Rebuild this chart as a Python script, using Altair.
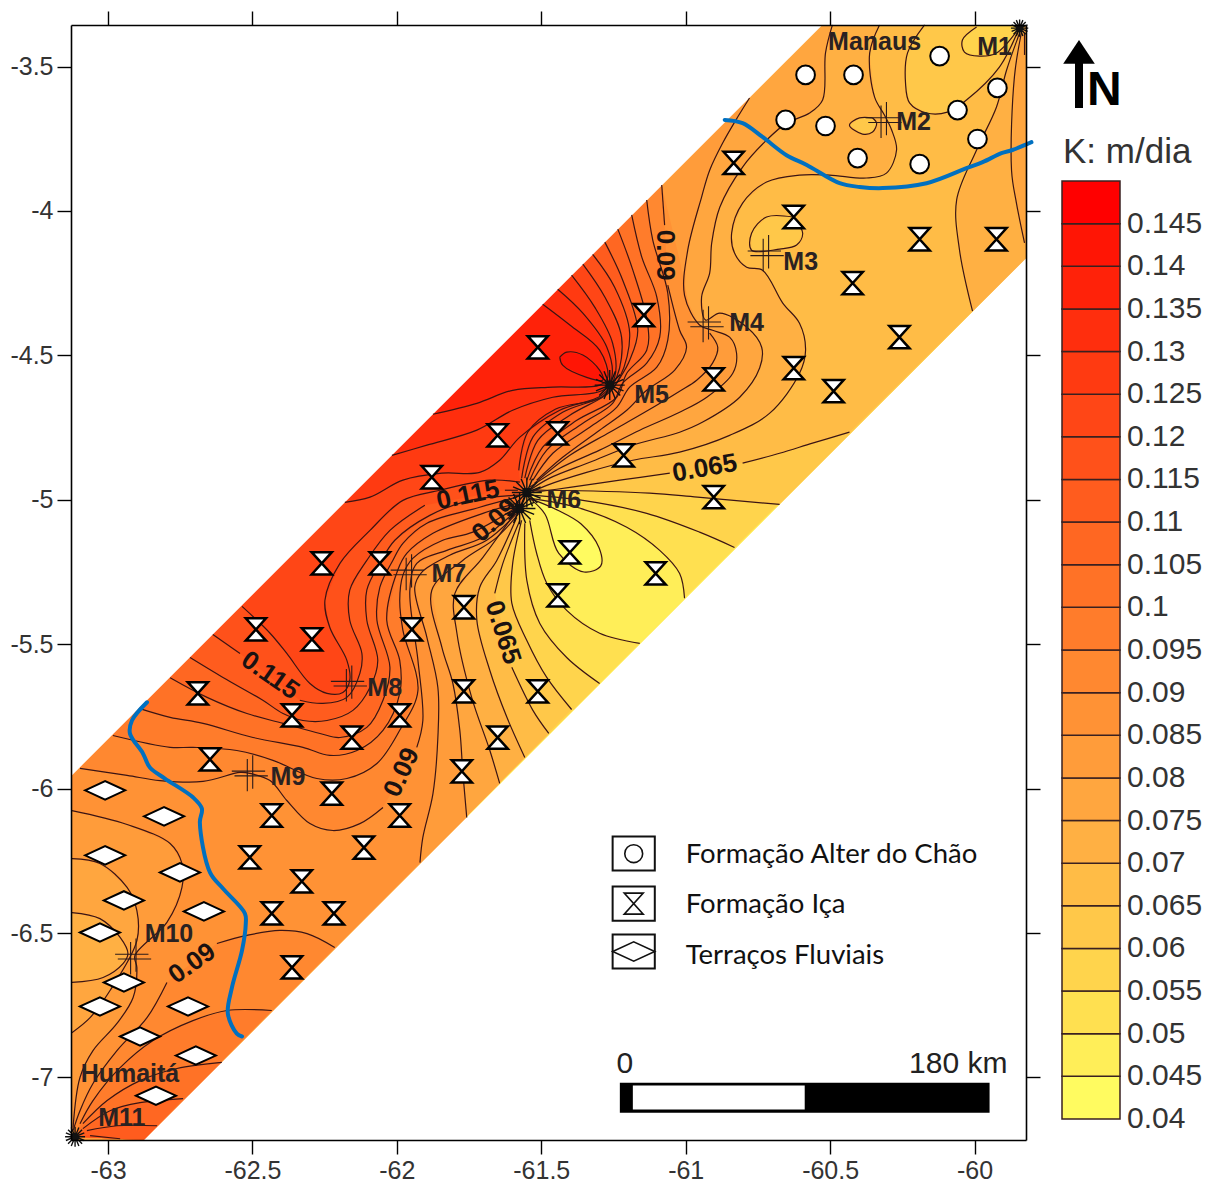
import altair as alt
import pandas as pd

# map frame, degrees
LEFT, RIGHT, TOP, BOTTOM = -63.1281, -59.8219, -3.3563, -7.2164
K = 288.85
UP_W = -5.957      # upper band edge meets the west frame
UP_N = -60.527     # upper band edge meets the north frame
LOW_E = -4.165     # lower band edge meets the east frame
LOW_S = -62.875    # lower band edge meets the south frame

LON_TICKS = [-63, -62.5, -62, -61.5, -61, -60.5, -60]
LAT_TICKS = [-3.5, -4, -4.5, -5, -5.5, -6, -6.5, -7]

LEVELS = [0.04, 0.045, 0.05, 0.055, 0.06, 0.065, 0.07, 0.075, 0.08, 0.085, 0.09, 0.095,
          0.1, 0.105, 0.11, 0.115, 0.12, 0.125, 0.13, 0.135, 0.14, 0.145]
LEVEL_TEXT = ["0.04", "0.045", "0.05", "0.055", "0.06", "0.065", "0.07", "0.075", "0.08", "0.085",
              "0.09", "0.095", "0.1", "0.105", "0.11", "0.115", "0.12", "0.125", "0.13", "0.135",
              "0.14", "0.145"]
LEVEL_COLORS = ["#FFFB60", "#FFEE58", "#FFE050", "#FFD44C", "#FFC849", "#FFBC46", "#FFB043", "#FFA63F",
                "#FF9C3A", "#FF9235", "#FF8830", "#FF7C2B", "#FF7226", "#FF6722", "#FF5C1E", "#FF511A",
                "#FF4616", "#FF3A11", "#FF2E0D", "#FF2209", "#FF1505", "#FF0000"]
COL = dict(zip(LEVELS, LEVEL_COLORS))

# contour pieces (lon, lat); None marks a gap left for a label
F7 = [(-61.004, -5.341), (-61.021, -5.255), (-61.09, -5.175), (-61.204, -5.095), (-61.377, -5.026), (-61.54, -4.995)]
F6 = [(-61.54, -5.071), (-61.516, -5.185), (-61.481, -5.289), (-61.412, -5.383), (-61.298, -5.462), (-61.159, -5.497)]
F8 = [(-60.831, -5.165), (-60.952, -5.112), (-61.135, -5.047), (-61.356, -5.002), (-61.54, -4.984)]
F5 = [(-61.557, -5.081), (-61.55, -5.279), (-61.505, -5.428), (-61.412, -5.546), (-61.298, -5.636)]
F9 = [(-60.675, -5.016), (-60.959, -4.991), (-61.125, -4.977), (-61.481, -4.967), (-61.54, -4.967)]
F4 = [(-61.568, -5.071), (-61.599, -5.22), (-61.602, -5.358), (-61.55, -5.487), (-61.481, -5.615), (-61.395, -5.726)]
YL = [(-60.433, -4.766), (-60.561, -4.804), (-60.675, -4.839), (-60.803, -4.873), None, (-61.055, -4.908),
      (-61.228, -4.932), (-61.401, -4.957), (-61.523, -4.974)]
F3 = [(-61.574, -5.071), (-61.633, -5.22), (-61.661, -5.324), None, (-61.602, -5.58), (-61.529, -5.729), (-61.474, -5.809)]
XL = [(-60.329, -3.356), (-60.363, -3.453), (-60.346, -3.606), (-60.312, -3.668), (-60.287, -3.72), (-60.27, -3.789),
      (-60.305, -3.869), (-60.374, -3.886), (-60.502, -3.876), (-60.606, -3.876), (-60.72, -3.9), (-60.803, -3.973),
      (-60.841, -4.077), (-60.831, -4.146), (-60.789, -4.195), (-60.734, -4.205), (-60.664, -4.319), (-60.606, -4.389),
      (-60.585, -4.482), (-60.606, -4.562), (-60.709, -4.7), (-60.848, -4.777), (-61.021, -4.835), (-61.183, -4.863),
      (-61.343, -4.905), (-61.481, -4.95), (-61.54, -4.977)]
F2 = [(-61.585, -5.061), (-61.654, -5.21), (-61.713, -5.303), (-61.723, -5.417), (-61.678, -5.591), (-61.619, -5.753), (-61.557, -5.892)]
QL = [(-60.492, -3.356), (-60.516, -3.453), (-60.526, -3.616), (-60.571, -3.661), (-60.651, -3.696), (-60.72, -3.755),
      (-60.803, -3.848), (-60.882, -3.987), (-60.91, -4.111), (-60.917, -4.215), (-60.945, -4.298), (-60.931, -4.378)]
KA = [(-60.882, -4.354), (-60.789, -4.402), (-60.737, -4.472), (-60.744, -4.544), (-60.813, -4.645), (-60.941, -4.731),
      (-61.021, -4.766), (-61.183, -4.811), (-61.332, -4.87), (-61.471, -4.925), (-61.54, -4.967)]
F1 = [(-61.592, -5.047), (-61.702, -5.199), (-61.799, -5.324), (-61.792, -5.462), (-61.741, -5.684), (-61.678, -5.868), (-61.644, -5.982)]
PL = [(-60.779, -3.609), (-60.82, -3.675), (-60.872, -3.765), (-60.917, -3.859), (-60.945, -3.952), (-60.993, -4.136),
      (-61.004, -4.292), (-60.952, -4.395)]
KB = [(-60.907, -4.413), (-60.848, -4.437), (-60.824, -4.492), (-60.837, -4.562), (-60.927, -4.645), (-61.021, -4.697),
      (-61.159, -4.759), (-61.298, -4.828), (-61.436, -4.891), (-61.54, -4.957)]
S3 = [(-61.568, -5.036), (-61.654, -5.13), (-61.772, -5.21), (-61.879, -5.313), (-61.844, -5.511), (-61.806, -5.636),
      (-61.782, -5.798), (-61.772, -5.937), (-61.758, -6.1)]
KC = [(-60.917, -4.423), (-60.889, -4.472), (-60.907, -4.527), (-60.962, -4.586), (-61.021, -4.624), (-61.142, -4.697),
      (-61.263, -4.766), (-61.401, -4.846), (-61.523, -4.943)]
S2 = [(-61.574, -5.036), (-61.689, -5.14), (-61.817, -5.192), (-61.914, -5.251), (-61.938, -5.303), (-61.896, -5.476),
      (-61.858, -5.65), (-61.858, -5.823), (-61.875, -6.017), (-61.91, -6.169), (-61.92, -6.256)]
T1 = [(-61.083, -3.91), (-61.073, -4.049), None, (-61.062, -4.257), (-61.021, -4.413), (-60.997, -4.472), (-61.038, -4.551),
      (-61.135, -4.621), (-61.204, -4.69), (-61.298, -4.759), (-61.426, -4.853), (-61.516, -4.932)]
V7 = [(-61.585, -5.036), (-61.702, -5.13), (-61.827, -5.175), (-61.931, -5.22), (-61.955, -5.313), (-61.927, -5.556),
      (-61.91, -5.764), (-61.931, -5.857), None, (-62.048, -6.065), (-62.128, -6.121), (-62.221, -6.145), (-62.301, -6.121),
      (-62.381, -6.041), (-62.439, -5.972), (-62.509, -5.947), (-62.543, -5.944), (-62.671, -5.975), (-62.82, -5.972),
      (-62.934, -5.954), (-63.097, -5.93)]
T2 = [(-61.135, -3.962), (-61.114, -4.101), (-61.062, -4.285), (-61.062, -4.447), (-61.1, -4.541), (-61.194, -4.61),
      (-61.239, -4.68), (-61.332, -4.749), (-61.46, -4.839), (-61.529, -4.932)]
V6 = [(-61.574, -5.019), (-61.737, -5.112), (-61.841, -5.14), (-61.945, -5.203), (-61.979, -5.261), (-61.99, -5.348),
      (-61.979, -5.452), (-61.927, -5.66), (-61.99, -5.798), (-62.069, -5.913), (-62.173, -5.965), (-62.277, -5.965),
      (-62.429, -5.902), (-62.554, -5.868), (-62.706, -5.857), (-62.785, -5.857), (-62.983, -5.816)]
T3 = [(-61.187, -4.014), (-61.152, -4.16), (-61.1, -4.298), (-61.09, -4.437), (-61.135, -4.527), (-61.218, -4.596),
      (-61.253, -4.666), (-61.356, -4.735), (-61.481, -4.828), (-61.54, -4.932)]
V5 = [(-61.574, -5.009), (-61.702, -5.047), (-61.875, -5.116), (-61.965, -5.185), (-61.997, -5.244), (-62.035, -5.417),
      (-61.99, -5.556), (-61.99, -5.67), (-62.048, -5.798), (-62.138, -5.868), (-62.232, -5.885), (-62.325, -5.857),
      (-62.498, -5.823), (-62.671, -5.774), (-62.785, -5.753), (-62.893, -5.722)]
T4 = [(-61.235, -4.063), (-61.183, -4.205), (-61.132, -4.389), (-61.135, -4.482), (-61.204, -4.562), (-61.239, -4.645),
      (-61.377, -4.725), (-61.495, -4.818), (-61.55, -4.932)]
V4 = [(-61.585, -4.991), (-61.713, -5.026), (-61.896, -5.081), (-61.979, -5.151), (-62.014, -5.21), (-62.059, -5.303),
      (-62.069, -5.417), (-62.024, -5.58), (-62.048, -5.694), (-62.104, -5.788), (-62.197, -5.823), (-62.266, -5.809),
      (-62.394, -5.774), (-62.519, -5.74), (-62.657, -5.684), (-62.785, -5.616)]
FF = [(-61.28, -4.108), (-61.218, -4.24), (-61.166, -4.413), (-61.194, -4.517), (-61.228, -4.579), (-61.263, -4.628),
      (-61.401, -4.707), (-61.512, -4.794), (-61.557, -4.925)]
V3 = [(-61.574, -4.984), (-61.747, -5.002), (-61.886, -5.054), (-62.007, -5.14), (-62.059, -5.22), (-62.104, -5.313),
      (-62.104, -5.417), (-62.066, -5.556), (-62.093, -5.65), (-62.152, -5.729), (-62.242, -5.764), (-62.325, -5.764),
      (-62.394, -5.74), (-62.464, -5.694), (-62.602, -5.615), (-62.716, -5.546)]
FE = [(-61.322, -4.15), (-61.246, -4.264), (-61.194, -4.423), (-61.228, -4.576), (-61.28, -4.638), (-61.426, -4.697),
      (-61.529, -4.783), (-61.568, -4.925)]
V2 = [(-61.581, -4.967), (-61.626, -4.967), None, (-61.903, -5.019), (-62.024, -5.106), (-62.104, -5.21), (-62.163, -5.313),
      (-62.163, -5.417), (-62.121, -5.532), (-62.128, -5.601), (-62.173, -5.684), (-62.256, -5.705), (-62.336, -5.694), None,
      (-62.543, -5.532), (-62.637, -5.466)]
FD = [(-61.356, -4.184), (-61.28, -4.298), (-61.222, -4.437), (-61.239, -4.576), (-61.291, -4.645), (-61.45, -4.686),
      (-61.547, -4.766), (-61.578, -4.898)]
V1 = [(-61.574, -4.939), (-61.678, -4.932), (-61.851, -4.967), (-61.979, -5.002), (-62.093, -5.106), (-62.197, -5.22),
      (-62.249, -5.348), (-62.232, -5.442), (-62.173, -5.556), (-62.163, -5.625), (-62.187, -5.667), (-62.242, -5.67),
      (-62.301, -5.636), (-62.381, -5.532), (-62.439, -5.462), (-62.536, -5.369)]
FC = [(-61.395, -4.222), (-61.315, -4.333), (-61.253, -4.458), (-61.246, -4.576)]
W3 = [(-61.291, -4.638), (-61.436, -4.69), (-61.574, -4.783), (-61.644, -4.863), (-61.713, -4.905), (-61.844, -4.908),
      (-61.979, -4.932), (-62.093, -4.991), (-62.18, -5.009)]
FB = [(-61.443, -4.271), (-61.356, -4.354), (-61.273, -4.472), (-61.256, -4.576)]
W2 = [(-61.287, -4.621), (-61.46, -4.645), (-61.599, -4.69), (-61.723, -4.759), (-61.896, -4.811), (-62.017, -4.846)]
FA = [(-61.495, -4.323), (-61.401, -4.395), (-61.298, -4.482), (-61.27, -4.576)]
W1 = [(-61.298, -4.603), (-61.46, -4.61), (-61.599, -4.621), (-61.723, -4.666), (-61.875, -4.704)]
LOBE = [(-61.436, -4.506), (-61.412, -4.489), (-61.356, -4.499), (-61.298, -4.551), (-61.287, -4.586), (-61.343, -4.576),
        (-61.426, -4.534), (-61.436, -4.506)]
YELLOW_LOOP = [(-61.54, -4.995), (-61.487, -5.05), (-61.44, -5.185), (-61.352, -5.25), (-61.294, -5.229), (-61.3, -5.166),
               (-61.363, -5.083), (-61.443, -5.036), (-61.54, -4.995)]
L085 = [(-63.125, -6.076), (-62.934, -6.124), (-62.785, -6.19), (-62.744, -6.259), (-62.744, -6.342), (-62.796, -6.463),
        (-62.907, -6.578), (-62.9, -6.619), (-62.913, -6.723), (-62.969, -6.813), (-63.052, -6.907), (-63.097, -7.0), (-63.121, -7.174)]
L080 = [(-63.125, -6.242), (-63.028, -6.259), (-62.934, -6.342), (-62.9, -6.422), (-62.9, -6.526), (-62.993, -6.699),
        (-63.062, -6.793), (-63.125, -6.845)]
L075 = [(-63.125, -6.429), (-63.028, -6.45), (-62.958, -6.515), (-62.931, -6.571), (-62.948, -6.606), (-63.017, -6.654), (-63.125, -6.671)]
S090 = [(-62.215, -6.55), (-62.311, -6.502), (-62.405, -6.491), (-62.519, -6.508), (-62.623, -6.536), None, (-62.796, -6.671),
        (-62.865, -6.793), (-62.969, -6.907), (-63.052, -7.021), (-63.097, -7.115), (-63.121, -7.184)]
S095 = [(-62.433, -6.768), (-62.588, -6.768), (-62.706, -6.803), (-62.844, -6.872), (-62.958, -6.966), (-63.052, -7.08), (-63.097, -7.16)]
S100 = [(-62.606, -6.948), (-62.761, -6.969), (-62.889, -7.011), (-63.003, -7.08), (-63.087, -7.16)]
S105 = [(-62.74, -7.073), (-62.889, -7.087), (-62.993, -7.115), (-63.087, -7.177)]
S110 = [(-62.83, -7.167), (-62.969, -7.167), (-63.073, -7.184)]
S115 = [(-62.958, -7.212), (-63.062, -7.201)]
N3 = [(-60.173, -3.356), (-60.232, -3.453), (-60.239, -3.557), (-60.225, -3.626), (-60.166, -3.661), (-60.094, -3.658),
      (-60.028, -3.616), (-59.914, -3.502), (-59.844, -3.363)]
M1_LOOP = [(-59.993, -3.363), (-60.042, -3.408), (-60.035, -3.45), (-59.983, -3.464), (-59.924, -3.453), (-59.851, -3.374)]
N4 = [(-59.844, -3.384), (-59.889, -3.512), (-59.924, -3.64), (-59.993, -3.789), (-60.062, -3.962), (-60.052, -4.136), (-60.007, -4.347)]
N5 = [(-59.838, -3.384), (-59.862, -3.536), (-59.872, -3.859), (-59.855, -3.973), (-59.827, -4.111)]
N6 = [(-59.827, -3.384), (-59.827, -3.46)]
M3_LOOP = [(-60.63, -4.021), (-60.72, -4.021), (-60.772, -4.077), (-60.772, -4.136), (-60.675, -4.132), (-60.616, -4.118), (-60.595, -4.077), (-60.63, -4.021)]
M2_LOOP = [(-60.353, -3.678), (-60.398, -3.678), (-60.433, -3.703), (-60.388, -3.734), (-60.353, -3.727), (-60.339, -3.696)]

# corners the filled regions close through
BL = (LOW_S, BOTTOM)
TL = (LEFT, TOP)
BLL = (LEFT, BOTTOM)
RING = [BL, BLL, TL, (RIGHT, TOP), (RIGHT, LOW_E)]
M11 = (-63.114, -7.205)
KC_CLOSE = [(-61.083, -3.356), (-61.083, -3.91), (-61.021, -4.17), (-60.979, -4.378)]

BAND = [(LEFT, UP_W), (UP_N, TOP), (RIGHT, TOP), (RIGHT, LOW_E), BL, BLL]
MASKS = [[(LEFT, UP_W), (UP_N, TOP), TL], [(RIGHT, LOW_E), BL, (RIGHT, BOTTOM)]]

# rivers
RIVER_N = [(-60.865, -3.685), (-60.803, -3.696), (-60.734, -3.744), (-60.651, -3.807), (-60.581, -3.841), (-60.467, -3.904),
           (-60.398, -3.917), (-60.318, -3.921), (-60.166, -3.904), (-60.028, -3.852), (-59.972, -3.831), (-59.907, -3.8),
           (-59.869, -3.789), (-59.803, -3.762)]
RIVER_S = [(-62.865, -5.701), (-62.917, -5.764), (-62.924, -5.809), (-62.879, -5.878), (-62.855, -5.927), (-62.803, -5.965),
           (-62.706, -6.03), (-62.675, -6.069), (-62.682, -6.117), (-62.647, -6.29), (-62.602, -6.346), (-62.526, -6.432),
           (-62.523, -6.467), (-62.536, -6.56), (-62.571, -6.689), (-62.585, -6.779), (-62.554, -6.848), (-62.536, -6.858)]

# wells
CIRCLES = [(-60.121, -3.464), (-60.585, -3.529), (-60.419, -3.529), (-59.921, -3.574), (-60.059, -3.651), (-60.654, -3.685),
           (-60.516, -3.706), (-59.99, -3.751), (-60.405, -3.817), (-60.19, -3.838)]
GLASSES = [(-60.834, -3.834), (-60.626, -4.021), (-60.19, -4.098), (-59.924, -4.098), (-60.422, -4.25), (-60.26, -4.437),
           (-61.145, -4.361), (-61.512, -4.472), (-60.626, -4.544), (-60.903, -4.583), (-60.488, -4.624), (-61.651, -4.777),
           (-61.443, -4.77), (-61.215, -4.846), (-61.879, -4.922), (-60.903, -4.991), (-61.401, -5.182), (-61.104, -5.255),
           (-62.26, -5.22), (-62.059, -5.22), (-61.443, -5.331), (-61.768, -5.372), (-61.948, -5.449), (-62.488, -5.449),
           (-62.294, -5.483), (-62.689, -5.67), (-61.768, -5.663), (-61.512, -5.663), (-61.99, -5.746), (-62.363, -5.746),
           (-62.156, -5.823), (-61.651, -5.823), (-62.647, -5.899), (-61.775, -5.94), (-62.225, -6.017), (-61.99, -6.093),
           (-62.433, -6.093), (-62.114, -6.204), (-62.509, -6.238), (-62.329, -6.321), (-62.433, -6.432), (-62.218, -6.432),
           (-62.363, -6.619)]
DIAMONDS = [(-63.01, -6.006), (-62.806, -6.096), (-63.01, -6.231), (-62.751, -6.29), (-62.945, -6.387), (-62.668, -6.425),
            (-63.028, -6.498), (-62.945, -6.671), (-63.028, -6.754), (-62.723, -6.754), (-62.889, -6.858), (-62.696, -6.924),
            (-62.834, -7.063)]
CROSSES = [(-60.315, -3.685), (-60.723, -4.146), (-60.931, -4.392), (-61.959, -5.251), (-62.166, -5.636), (-62.509, -5.947), (-62.913, -6.581)]
BURSTS = [(-59.844, -3.367, 300), (-61.263, -4.603, 900), (-61.55, -4.975, 900), (-61.575, -5.03, 1000), (-63.114, -7.205, 400)]

STATION_TEXT = ["M1", "M2", "M3", "M4", "M5", "M6", "M7", "M8", "M9", "M10", "M11", "Manaus", "Humaitá"]
STATION_LON = [-59.931, -60.211, -60.602, -60.789, -61.118, -61.422, -61.82, -62.042, -62.377, -62.789, -62.952, -60.346, -62.924]
STATION_LAT = [-3.432, -3.692, -4.177, -4.389, -4.638, -5.002, -5.258, -5.653, -5.958, -6.502, -7.139, -3.415, -6.987]

CONTOUR_TEXT = ["0.065", "0.09", "0.115", "0.09", "0.065", "0.115", "0.09", "0.09"]
CONTOUR_LON = [-60.934, -61.073, -61.754, -61.661, -61.633, -62.439, -61.983, -62.709]
CONTOUR_LAT = [-4.891, -4.153, -4.984, -5.071, -5.459, -5.608, -5.944, -6.605]
CONTOUR_ANGLE = [-10, 90, -12, -42, 72, 35, -65, -35]

KEY_TEXT = ["Formação Alter do Chão", "Formação Iça", "Terraços Fluviais"]
KEY_TEXT_LAT = [-6.231, -6.404, -6.578]
KEY_BOX_TOP = [-6.166, -6.339, -6.505]
KEY_BOX_BOTTOM = [-6.283, -6.457, -6.623]
KEY_SYMBOL_LAT = [-6.225, -6.398, -6.564]

SCALE_OUTER = [(-61.228, -7.018), (-59.948, -7.122)]
SCALE_INNER = [(-61.183, -7.028), (-60.588, -7.111)]
SCALE_TEXT = ["0", "180 km"]

SX = alt.Scale(domain=[LEFT, RIGHT], nice=False, zero=False)
SY = alt.Scale(domain=[BOTTOM, TOP], nice=False, zero=False)
X = alt.X("lon:Q", scale=SX, axis=None)
Y = alt.Y("lat:Q", scale=SY, axis=None)
SANS = "Liberation Sans"
LINE = "#3B1414"

GLASS = "M-0.95,-1.05L0.95,-1.05L-0.95,1.05L0.95,1.05Z"
DIAMOND = "M-1,0L0,-0.46L1,0L0,0.46Z"
CROSS = "M-1,-0.12L0.85,-0.12M-0.85,0.14L1,0.14M0.16,-1L0.16,0.85M-0.14,-0.8L-0.14,1"
BURST = ("M-1,0L1,0M0,-1L0,1M-0.7,-0.7L0.7,0.7M-0.7,0.7L0.7,-0.7M-0.92,-0.38L0.92,0.38M-0.92,0.38L0.92,-0.38"
         "M-0.38,-0.92L0.38,0.92M-0.38,0.92L0.38,-0.92M-0.25,-0.25L0.25,-0.25L0.25,0.25L-0.25,0.25Z")


def clean(*parts):
    out = []
    for part in parts:
        out += [p for p in part if p is not None]
    return out


def feature(points, colour):
    ring = [list(p) for p in points] + [list(points[0])]
    return {"type": "Feature", "properties": {"c": colour}, "geometry": {"type": "Polygon", "coordinates": [ring]}}


REGIONS = [
    (clean(BAND), 0.045),
    (clean(YELLOW_LOOP), 0.04),
    (clean(F7, F6, RING), 0.05),
    (clean(F8, F5, RING), 0.055),
    (clean(F9, F4, RING), 0.06),
    (clean(YL, F3, RING), 0.065),
    (clean(XL, F2, [BL, BLL, TL]), 0.07),
    (clean(QL, KA, F1, [BL, BLL], L075[::-1], [TL]), 0.075),
    (clean(PL, KB, S3, [BL, BLL], L080[::-1], [TL, (-60.779, TOP)]), 0.08),
    (clean(KC, S2, [BL, M11], L085[::-1], [TL], KC_CLOSE), 0.085),
    (clean(T1, V7, [TL, (-61.083, TOP)]), 0.09),
    (clean(S090, [M11, BL]), 0.09),
    (clean(T2, V6, [TL, (-61.135, TOP)]), 0.095),
    (clean(S095, [M11, BL]), 0.095),
    (clean(T3, V5, [TL, (-61.187, TOP)]), 0.1),
    (clean(S100, [M11, BL]), 0.1),
    (clean(T4, V4, [TL, (-61.235, TOP)]), 0.105),
    (clean(S105, [M11, BL]), 0.105),
    (clean(FF, V3, [TL, (-61.28, TOP)]), 0.11),
    (clean(S110, [M11, BL]), 0.11),
    (clean(FE, V2, [TL, (-61.322, TOP)]), 0.115),
    (clean(S115, [M11, BL]), 0.115),
    (clean(FD, V1, [TL, (-61.356, TOP)]), 0.12),
    (clean(FC, W3, [TL, (-61.395, TOP)]), 0.125),
    (clean(FB, W2, [TL, (-61.443, TOP)]), 0.13),
    (clean(FA, W1, [TL, (-61.495, TOP)]), 0.135),
    (clean(LOBE), 0.14),
    (clean(M3_LOOP), 0.06),
    (clean(M2_LOOP), 0.06),
]
NE_REGIONS = [
    (clean(N4, [(RIGHT, LOW_E), (RIGHT, TOP)]), 0.07),
    (clean(N5, [(RIGHT, LOW_E), (RIGHT, TOP)]), 0.075),
    (clean(N3, [(RIGHT, TOP)]), 0.06),
    (clean(M1_LOOP, [(-59.844, TOP), (-59.993, TOP)]), 0.055),
]
features = [feature(p, COL[l]) for p, l in REGIONS[:7]]
features += [feature(p, COL[l]) for p, l in NE_REGIONS]
features += [feature(p, COL[l]) for p, l in REGIONS[7:]]
features += [feature(m, "#FFFFFF") for m in MASKS]

CONTOURS = [
    YELLOW_LOOP, F7, F6, F8, F5, F9, F4, YL, F3, XL, F2, QL + KA, F1, PL + KB, S3, KC, S2, T1, V7, T2, V6, T3, V5, T4, V4,
    FF, V3, FE, V2, FD, V1, FC + W3, FB + W2, FA + W1, LOBE, L085, L080, L075, S090, S095, S100, S105, S110, S115,
    N3, M1_LOOP, N4, N5, N6, M3_LOOP, M2_LOOP + M2_LOOP[:1],
]
rows = []
for cid, pts_ in enumerate(CONTOURS):
    seg = 0
    for i, p in enumerate(pts_):
        if p is None:
            seg += 1
        else:
            rows.append({"id": f"{cid}-{seg}", "i": i, "lon": p[0], "lat": p[1]})
lines = pd.DataFrame(rows)


def pts(values):
    return pd.DataFrame(values, columns=["lon", "lat"])


def river(values):
    d = pts(values)
    d["i"] = range(len(d))
    return alt.Chart(d).mark_line(color="#0070C0", strokeWidth=4, strokeCap="round", interpolate="catmull-rom").encode(
        x=X, y=Y, order=alt.Order("i:Q"))


frame = pd.DataFrame({"lon": [LEFT, RIGHT], "lat": [BOTTOM, TOP]})


def axis_layer(xorient, yorient, labels):
    common = dict(domainColor="#000", domainWidth=1.6, tickColor="#000", tickWidth=1.4, tickSize=14, grid=False,
                  title=None, zindex=2, labelFont=SANS, labelFontSize=25, labelColor="#333", labelPadding=4,
                  labelExpr="''+datum.value", labels=labels)
    return alt.Chart(frame).mark_point(opacity=0).encode(
        x=alt.X("lon:Q", scale=SX, axis=alt.Axis(orient=xorient, values=LON_TICKS, **common)),
        y=alt.Y("lat:Q", scale=SY, axis=alt.Axis(orient=yorient, values=LAT_TICKS, **common)),
    )


fills = alt.Chart(alt.Data(values=features)).mark_geoshape(strokeWidth=0).encode(
    fill=alt.Fill("properties.c:N", scale=None)
).project(type="identity", reflectY=True, scale=K, translate=[-LEFT * K, TOP * K])

contour_lines = alt.Chart(lines).mark_line(color=LINE, strokeWidth=1.2, interpolate="catmull-rom").encode(
    x=X, y=Y, detail="id:N", order=alt.Order("i:Q"))

circles = alt.Chart(pts(CIRCLES)).mark_point(shape="circle", size=350, filled=True, fill="white", stroke="black",
                                             strokeWidth=2, opacity=1).encode(x=X, y=Y)
glasses = alt.Chart(pts(GLASSES)).mark_point(shape=GLASS, size=450, filled=True, fill="white", stroke="black",
                                             strokeWidth=2.5, opacity=1).encode(x=X, y=Y)
diamonds = alt.Chart(pts(DIAMONDS)).mark_point(shape=DIAMOND, size=1600, filled=True, fill="white", stroke="black",
                                               strokeWidth=2, opacity=1).encode(x=X, y=Y)
crosses = alt.Chart(pts(CROSSES)).mark_point(shape=CROSS, size=1300, filled=False, stroke="#2A1A1A", strokeWidth=1.1,
                                             opacity=1).encode(x=X, y=Y)
bursts = alt.Chart(pd.DataFrame(BURSTS, columns=["lon", "lat", "s"])).mark_point(
    shape=BURST, filled=False, stroke="#111", strokeWidth=1.4, opacity=1).encode(
    x=X, y=Y, size=alt.Size("s:Q", scale=None, legend=None))

station_df = pd.DataFrame({"lon": STATION_LON, "lat": STATION_LAT, "t": STATION_TEXT})
stations = alt.Chart(station_df).mark_text(font=SANS, fontSize=25, fontWeight="bold", color="#2A2222").encode(
    x=X, y=Y, text="t:N")
contour_df = pd.DataFrame({"lon": CONTOUR_LON, "lat": CONTOUR_LAT, "t": CONTOUR_TEXT, "a": CONTOUR_ANGLE})
contour_text = alt.Chart(contour_df).mark_text(font=SANS, fontSize=26, fontWeight="bold", color="#1A1212").encode(
    x=X, y=Y, text="t:N", angle=alt.Angle("a:Q", scale=None))

# key to the well symbols
key_df = pd.DataFrame({"l": [-61.253] * 3, "r": [-61.107] * 3, "t": KEY_BOX_TOP, "b": KEY_BOX_BOTTOM})
key_boxes = alt.Chart(key_df).mark_rect(fill="white", stroke="#111", strokeWidth=2).encode(
    x=alt.X("l:Q", scale=SX, axis=None), x2="r:Q", y=alt.Y("t:Q", scale=SY, axis=None), y2="b:Q")
key_c = alt.Chart(pd.DataFrame({"lon": [-61.18], "lat": [KEY_SYMBOL_LAT[0]]})).mark_point(
    shape="circle", size=320, filled=False, stroke="#111", strokeWidth=1.6, opacity=1).encode(x=X, y=Y)
key_g = alt.Chart(pd.DataFrame({"lon": [-61.18], "lat": [KEY_SYMBOL_LAT[1]]})).mark_point(
    shape=GLASS, size=400, filled=False, stroke="#111", strokeWidth=1.6, opacity=1).encode(x=X, y=Y)
key_d = alt.Chart(pd.DataFrame({"lon": [-61.18], "lat": [KEY_SYMBOL_LAT[2]]})).mark_point(
    shape=DIAMOND, size=1764, filled=False, stroke="#111", strokeWidth=1.6, opacity=1).encode(x=X, y=Y)
key_text = alt.Chart(pd.DataFrame({"lon": [-61.0] * 3, "lat": KEY_TEXT_LAT, "t": KEY_TEXT})).mark_text(
    font="Lato", fontSize=27.5, align="left", color="#111").encode(x=X, y=Y, text="t:N")

# scale bar
bar_outer = alt.Chart(pd.DataFrame({"l": [SCALE_OUTER[0][0]], "t": [SCALE_OUTER[0][1]], "r": [SCALE_OUTER[1][0]], "b": [SCALE_OUTER[1][1]]})).mark_rect(color="black").encode(
    x=alt.X("l:Q", scale=SX, axis=None), x2="r:Q", y=alt.Y("t:Q", scale=SY, axis=None), y2="b:Q")
bar_inner = alt.Chart(pd.DataFrame({"l": [SCALE_INNER[0][0]], "t": [SCALE_INNER[0][1]], "r": [SCALE_INNER[1][0]], "b": [SCALE_INNER[1][1]]})).mark_rect(color="white").encode(
    x=alt.X("l:Q", scale=SX, axis=None), x2="r:Q", y=alt.Y("t:Q", scale=SY, axis=None), y2="b:Q")
bar_0 = alt.Chart(pd.DataFrame({"lon": [-61.211], "lat": [-6.955], "t": [SCALE_TEXT[0]]})).mark_text(
    font=SANS, fontSize=30, color="#222").encode(x=X, y=Y, text="t:N")
bar_1 = alt.Chart(pd.DataFrame({"lon": [-59.886], "lat": [-6.955], "t": [SCALE_TEXT[1]]})).mark_text(
    font=SANS, fontSize=30, align="right", color="#222").encode(x=X, y=Y, text="t:N")

# colour legend, on its own scale outside the map frame
SK = alt.Scale(domain=[0.04, 0.15], range=[1094, 156], nice=False, zero=False)
hi = LEVELS[1:] + [0.15]
leg_df = pd.DataFrame({"lo": LEVELS, "hi": hi, "c": LEVEL_COLORS, "t": LEVEL_TEXT})
leg_bars = alt.Chart(leg_df).mark_rect(stroke="#3A2020", strokeWidth=1.5).encode(
    x=alt.value(991), x2=alt.value(1049), y=alt.Y("lo:Q", scale=SK, axis=None), y2="hi:Q",
    fill=alt.Fill("c:N", scale=None))
leg_text = alt.Chart(leg_df).mark_text(font=SANS, fontSize=30, align="left", color="#333").encode(
    x=alt.value(1056), y=alt.Y("lo:Q", scale=SK, axis=None), text="t:N")
leg_title = alt.Chart(pd.DataFrame({"t": ["K: m/dia"]})).mark_text(
    font=SANS, fontSize=35, align="left", color="#333").encode(x=alt.value(992), y=alt.value(127), text="t:N")
north = alt.Chart(pd.DataFrame({"t": ["N"]})).mark_text(
    font=SANS, fontSize=48, fontWeight="bold", align="left", color="#000").encode(x=alt.value(1016), y=alt.value(66), text="t:N")
arrow_shaft = alt.Chart(pd.DataFrame({"a": [1]})).mark_rule(color="#000", strokeWidth=8).encode(
    x=alt.value(1008), y=alt.value(30), y2=alt.value(83))
arrow_head = alt.Chart(pd.DataFrame({"a": [1]})).mark_point(
    shape="M-1,1L0,-0.5L1,1Z", size=1000, filled=True, fill="#000", opacity=1, strokeWidth=0).encode(
    x=alt.value(1008), y=alt.value(23))

chart = alt.layer(
    fills, contour_lines, river(RIVER_N), river(RIVER_S),
    circles, glasses, diamonds, crosses, bursts, stations, contour_text,
    key_boxes, key_c, key_g, key_d, key_text, bar_outer, bar_inner, bar_0, bar_1,
    leg_bars, leg_text, leg_title, north, arrow_shaft, arrow_head,
    axis_layer("bottom", "left", True), axis_layer("top", "right", False),
).resolve_scale(x="independent", y="independent").properties(
    width=955, height=1115, autosize=alt.AutoSizeParams(type="none"),
    padding={"left": 63, "top": 17, "right": 181, "bottom": 47},
).configure_view(stroke=None)

chart.save("out.html", embed_options={"renderer": "svg", "actions": False})
